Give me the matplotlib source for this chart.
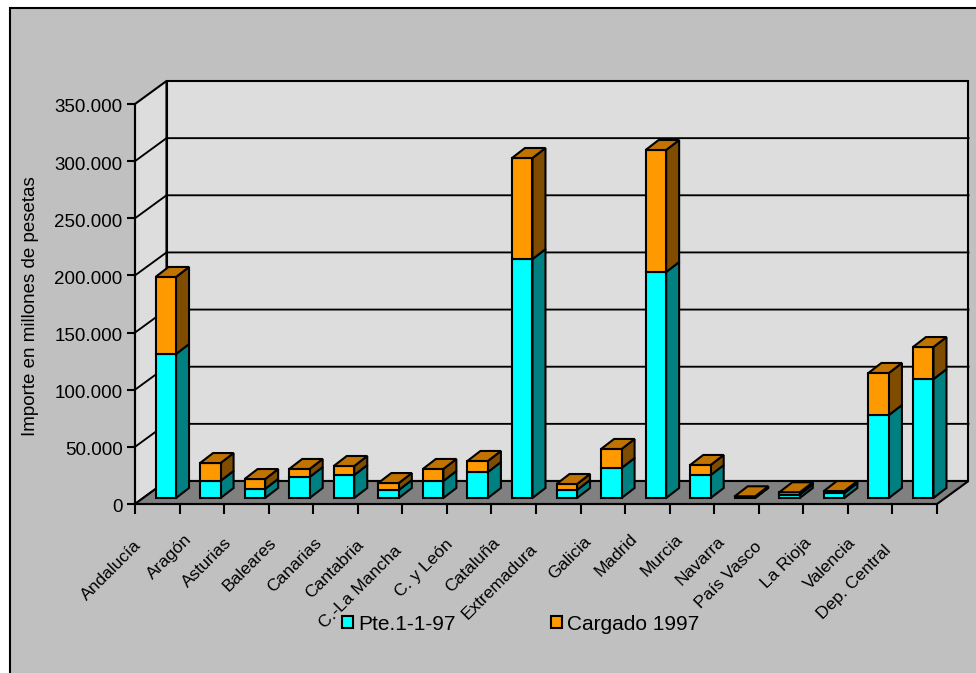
import matplotlib
matplotlib.use("Agg")
import matplotlib.pyplot as plt
from matplotlib.patches import Polygon, Rectangle, Patch
from matplotlib.ticker import FuncFormatter
from matplotlib.transforms import ScaledTranslation

plt.rcParams['font.family'] = ['Liberation Sans', 'DejaVu Sans']

regiones = ["Andalucía", "Aragón", "Asturias", "Baleares", "Canarias", "Cantabria",
            "C.-La Mancha", "C. y León", "Cataluña", "Extremadura", "Galicia", "Madrid",
            "Murcia", "Navarra", "País Vasco", "La Rioja", "Valencia", "Dep. Central"]
pendiente = [126000, 15000, 8000, 18400, 20100, 7000, 14900, 22750, 209000,
             7000, 26250, 197750, 20100, 500, 3000, 4400, 72600, 104000]
cargado = [67400, 15600, 8600, 7000, 7900, 6100, 10500, 9650, 88500,
           5250, 16650, 106750, 8800, 1000, 2000, 1700, 36800, 28100]
y_ticks = [0, 50000, 100000, 150000, 200000, 250000, 300000, 350000]

W, H = 976, 673
# scale of the axes: one category is 44.56 px, 350000 is 400 px
PX_X = 18 / 802
PX_Y = 350000 / 400
fondo_x, fondo_y = 31.5 * PX_X, 23 * PX_Y    # depth of the box
bar_x, bar_y = 8.5 * PX_X, 6 * PX_Y          # where the bars start inside it
prof_x, prof_y = 13 * PX_X, 10 * PX_Y        # depth of a bar
ancho = 20.5 * PX_X
lw = 1.5

fig = plt.figure(figsize=(W / 100, H / 100), dpi=100, facecolor='white')
fig.add_artist(Rectangle((9.5 / W, -0.1), 1.1, 1.1 - 8.5 / H, transform=fig.transFigure,
                         facecolor='#C0C0C0', edgecolor='black', linewidth=lw, zorder=-1))
ax = fig.add_axes([135 / W, (H - 504) / H, 802 / W, 400 / H])
ax.patch.set_visible(False)
ax.set_xlim(0, 18)
ax.set_ylim(0, 350000)


def cara(puntos, color, z=3):
    ax.add_patch(Polygon(puntos, closed=True, facecolor=color, edgecolor='black',
                         linewidth=lw, joinstyle='miter', clip_on=False, zorder=z))


# walls and floor
top = y_ticks[-1]
cara([(0, 0), (fondo_x, fondo_y), (fondo_x, top + fondo_y), (0, top)], '#DDDDDD', 1)
cara([(fondo_x, fondo_y), (18 + fondo_x, fondo_y), (18 + fondo_x, top + fondo_y),
      (fondo_x, top + fondo_y)], '#DDDDDD', 1)
for t in y_ticks[1:-1]:
    ax.plot([0, fondo_x, 18 + fondo_x], [t, t + fondo_y, t + fondo_y], color='black',
            lw=lw * 0.9, clip_on=False, zorder=1.5)
cara([(0, 0), (18, 0), (18 + fondo_x, fondo_y), (fondo_x, fondo_y)], '#808080', 2)

# stacked bars, front face plus top and side in perspective
for i in range(len(regiones)):
    x0 = i + 0.5 - ancho / 2 + bar_x
    x1 = x0 + ancho
    z = 3 + i * 0.01
    abajo = bar_y
    for valor, frente, lado, tapa in [(pendiente[i], '#00FFFF', '#008080', None),
                                      (cargado[i], '#FF9900', '#804D00', '#C07300')]:
        arriba = abajo + valor
        cara([(x1, abajo), (x1 + prof_x, abajo + prof_y),
              (x1 + prof_x, arriba + prof_y), (x1, arriba)], lado, z)
        cara([(x0, abajo), (x1, abajo), (x1, arriba), (x0, arriba)], frente, z)
        if tapa:
            cara([(x0, arriba), (x1, arriba), (x1 + prof_x, arriba + prof_y),
                  (x0 + prof_x, arriba + prof_y)], tapa, z)
        abajo = arriba

# axes
for lado in ['top', 'right']:
    ax.spines[lado].set_visible(False)
for lado in ['left', 'bottom']:
    ax.spines[lado].set_linewidth(lw)
ax.set_yticks(y_ticks)
ax.yaxis.set_major_formatter(FuncFormatter(lambda v, p: f"{int(v):,}".replace(",", ".")))
ax.set_xticks(range(19))
ax.set_xticklabels([])
ax.tick_params(axis='y', length=6, width=lw, labelsize=13.5, pad=3)
ax.tick_params(axis='x', length=7.5, width=lw)
for lab in ax.get_yticklabels():
    lab.set_transform(lab.get_transform() + ScaledTranslation(0, -2 / 100, fig.dpi_scale_trans))
ax.set_ylabel("Importe en millones de pesetas", fontsize=13.5)
ax.yaxis.set_label_coords((39 - 135) / 802, 0.495)

for i, nombre in enumerate(regiones):
    n = len(nombre)
    ax.annotate(nombre, xy=(i + 0.5, 0), xytext=((-3.5 - 2.3 * n) * 0.72, (-16 - 1.9 * n) * 0.72),
                textcoords='offset points', rotation=45, rotation_mode='anchor',
                ha='right', va='top', fontsize=12.5, annotation_clip=False)

handles = [Patch(facecolor='#00FFFF', edgecolor='black', linewidth=lw),
           Patch(facecolor='#FF9900', edgecolor='black', linewidth=lw)]
fig.legend(handles, ["Pte.1-1-97", "Cargado 1997"], ncol=2, frameon=False, fontsize=15,
           loc='center left', bbox_to_anchor=(332 / W, (H - 624) / H), handlelength=0.52,
           handleheight=0.52, handletextpad=0.25, columnspacing=4.55, borderpad=0)

plt.savefig("out.png", dpi=100, facecolor=fig.get_facecolor())
